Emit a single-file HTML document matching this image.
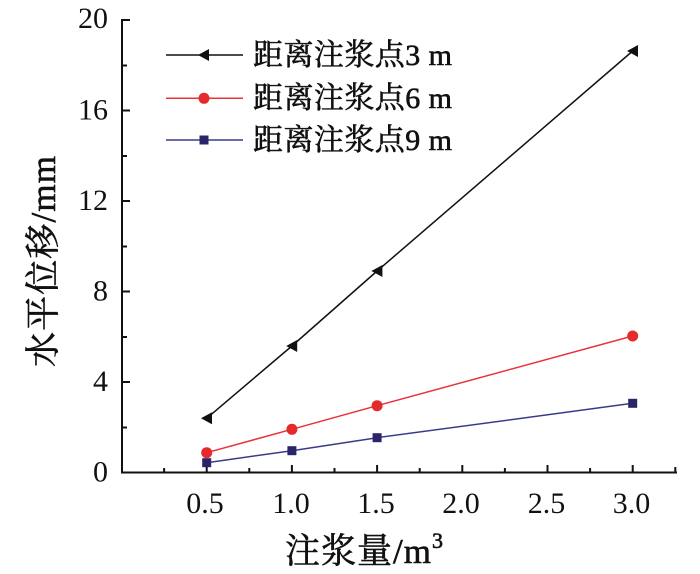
<!DOCTYPE html>
<html>
<head>
<meta charset="utf-8">
<style>
html,body{margin:0;padding:0;background:#fff;}
svg{display:block;}
.tk{font-family:"Liberation Serif","Noto Serif CJK SC",serif;font-size:30px;fill:#111;}
.cj{font-family:"Liberation Serif","Noto Serif CJK SC",serif;fill:#111;stroke:#111;stroke-width:0.6px;}
</style>
</head>
<body>
<svg width="700" height="574" viewBox="0 0 700 574" xmlns="http://www.w3.org/2000/svg">
  <!-- axes -->
  <g stroke="#111" stroke-width="2" fill="none">
    <line x1="122" y1="19" x2="122" y2="473.5"/>
    <line x1="121" y1="472.5" x2="677" y2="472.5"/>
    <!-- y major ticks -->
    <line x1="122" y1="20" x2="130" y2="20"/>
    <line x1="122" y1="110.5" x2="130" y2="110.5"/>
    <line x1="122" y1="201" x2="130" y2="201"/>
    <line x1="122" y1="291.5" x2="130" y2="291.5"/>
    <line x1="122" y1="382" x2="130" y2="382"/>
    <!-- y minor ticks -->
    <line x1="122" y1="65.5" x2="127" y2="65.5"/>
    <line x1="122" y1="156" x2="127" y2="156"/>
    <line x1="122" y1="246.5" x2="127" y2="246.5"/>
    <line x1="122" y1="337" x2="127" y2="337"/>
    <line x1="122" y1="427.5" x2="127" y2="427.5"/>
    <!-- x major ticks -->
    <line x1="206.7" y1="472.5" x2="206.7" y2="465"/>
    <line x1="291.9" y1="472.5" x2="291.9" y2="465"/>
    <line x1="377.1" y1="472.5" x2="377.1" y2="465"/>
    <line x1="462.3" y1="472.5" x2="462.3" y2="465"/>
    <line x1="547.5" y1="472.5" x2="547.5" y2="465"/>
    <line x1="632.7" y1="472.5" x2="632.7" y2="465"/>
    <!-- x minor ticks -->
    <line x1="164.1" y1="472.5" x2="164.1" y2="468"/>
    <line x1="249.3" y1="472.5" x2="249.3" y2="468"/>
    <line x1="334.5" y1="472.5" x2="334.5" y2="468"/>
    <line x1="419.7" y1="472.5" x2="419.7" y2="468"/>
    <line x1="504.9" y1="472.5" x2="504.9" y2="468"/>
    <line x1="590.1" y1="472.5" x2="590.1" y2="468"/>
    <line x1="675.3" y1="472.5" x2="675.3" y2="467"/>
  </g>

  <!-- y tick labels -->
  <g class="tk" text-anchor="end">
    <text x="108" y="28">20</text>
    <text x="108" y="119.5">16</text>
    <text x="108" y="210">12</text>
    <text x="108" y="300.5">8</text>
    <text x="108" y="391">4</text>
    <text x="108" y="481.5">0</text>
  </g>
  <!-- x tick labels -->
  <g class="tk" text-anchor="middle">
    <text x="205" y="513">0.5</text>
    <text x="291" y="513">1.0</text>
    <text x="376" y="513">1.5</text>
    <text x="461" y="513">2.0</text>
    <text x="546.5" y="513">2.5</text>
    <text x="631.5" y="513">3.0</text>
  </g>

  <!-- axis titles -->
  <text class="cj" x="285" y="563" font-size="35" textLength="146" lengthAdjust="spacing">注浆量/m</text>
  <text class="cj" x="432" y="548" font-size="22">3</text>
  <text class="cj" transform="translate(55,261.5) rotate(-90)" text-anchor="middle" font-size="35" textLength="211" lengthAdjust="spacing">水平位移/mm</text>

  <!-- series: 9 m (blue) -->
  <polyline points="206.7,462.7 291.9,450.7 377.1,437.7 632.7,403.3" fill="none" stroke="#3a3a8c" stroke-width="1.5"/>
  <g fill="#2b2468">
    <rect x="202.2" y="458.2" width="9" height="9"/>
    <rect x="287.4" y="446.2" width="9" height="9"/>
    <rect x="372.6" y="433.2" width="9" height="9"/>
    <rect x="628.2" y="398.8" width="9" height="9"/>
  </g>

  <!-- series: 6 m (red) -->
  <polyline points="206.7,452.7 291.9,429.3 377.1,405.7 632.7,336" fill="none" stroke="#e8333a" stroke-width="1.5"/>
  <g fill="#e42a2a">
    <circle cx="206.7" cy="452.7" r="5.5"/>
    <circle cx="291.9" cy="429.3" r="5.5"/>
    <circle cx="377.1" cy="405.7" r="5.5"/>
    <circle cx="632.7" cy="336" r="5.5"/>
  </g>

  <!-- series: 3 m (black) -->
  <polyline points="206.7,418.3 291.9,346 377.1,271 632.7,51" fill="none" stroke="#111" stroke-width="1.5"/>
  <g fill="#111">
    <polygon points="201,418.3 212,412.3 212,424.3"/>
    <polygon points="286.2,346 297.2,340 297.2,352"/>
    <polygon points="371.4,271 382.4,265 382.4,277"/>
    <polygon points="627,51 638,45 638,57"/>
  </g>

  <!-- legend -->
  <line x1="166" y1="55" x2="243" y2="55" stroke="#111" stroke-width="1.5"/>
  <polygon points="198,55 209,49 209,61" fill="#111"/>
  <line x1="166" y1="98.3" x2="243" y2="98.3" stroke="#e8333a" stroke-width="1.5"/>
  <circle cx="204" cy="98.3" r="5.5" fill="#e42a2a"/>
  <line x1="166" y1="140" x2="243" y2="140" stroke="#3a3a8c" stroke-width="1.5"/>
  <rect x="199.5" y="135.5" width="9" height="9" fill="#2b2468"/>

  <g class="cj" font-size="30">
    <text x="253" y="65" textLength="199" lengthAdjust="spacing">距离注浆点3 m</text>
    <text x="253" y="108" textLength="199" lengthAdjust="spacing">距离注浆点6 m</text>
    <text x="253" y="150" textLength="199" lengthAdjust="spacing">距离注浆点9 m</text>
  </g>
</svg>
</body>
</html>
